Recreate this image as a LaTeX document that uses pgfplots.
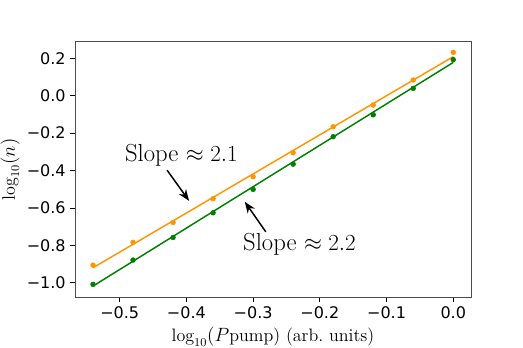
\documentclass[border=0pt]{standalone}
\usepackage{fontspec}
\usepackage{pgfplots}
\pgfplotsset{compat=1.18}
\usetikzlibrary{arrows.meta}
\newfontfamily\tickfont{DejaVu Sans}
\definecolor{mplorange}{RGB}{255,150,0}
\definecolor{mplgreen}{RGB}{0,128,0}

\begin{document}
\begin{tikzpicture}
\begin{axis}[
    scale only axis,
    width=297pt, height=192.5pt,
    xmin=-0.567, xmax=0.0266,
    ymin=-1.080, ymax=0.2926,
    axis line style={black!70, line width=0.7pt},
    tick style={black, line width=0.6pt},
    tick align=outside,
    major tick length=3.5pt,
    xtick={-0.5,-0.4,-0.3,-0.2,-0.1,0},
    xticklabels={−0.5,−0.4,−0.3,−0.2,−0.1,0.0},
    ytick={-1.0,-0.8,-0.6,-0.4,-0.2,0,0.2},
    yticklabels={−1.0,−0.8,−0.6,−0.4,−0.2,0.0,0.2},
    ticklabel style={font=\tickfont\fontsize{12}{14}\selectfont},
    xtick pos=bottom, ytick pos=left,
    xlabel={$\log_{10}(P$pump) (arb.\ units)},
    ylabel={$\log_{10}(n)$},
    every axis x label/.style={at={(rel axis cs:0.5,0)}, yshift=-29.5pt, anchor=center, font=\fontsize{13.5}{16}\selectfont},
    every axis y label/.style={at={(rel axis cs:0,0.5)}, xshift=-48.75pt, anchor=center, rotate=90, font=\fontsize{13.5}{16}\selectfont},
    clip=false,
]
% fitted lines
\addplot[mplorange, line width=1.1pt] coordinates {(-0.54,-0.920) (0,0.209)};
\addplot[mplgreen, line width=1.1pt] coordinates {(-0.54,-1.018) (0,0.178)};
% data
\addplot[only marks, mark=*, mark size=1.8pt, mplorange, mark options={draw=none, fill=mplorange}] coordinates {
    (-0.54,-0.906) (-0.48,-0.784) (-0.42,-0.678) (-0.36,-0.551) (-0.30,-0.433)
    (-0.24,-0.305) (-0.18,-0.166) (-0.12,-0.050) (-0.06,0.084) (0,0.232)
};
\addplot[only marks, mark=*, mark size=1.8pt, mplgreen, mark options={draw=none, fill=mplgreen}] coordinates {
    (-0.54,-1.009) (-0.48,-0.879) (-0.42,-0.758) (-0.36,-0.626) (-0.30,-0.501)
    (-0.24,-0.366) (-0.18,-0.219) (-0.12,-0.102) (-0.06,0.039) (0,0.193)
};
% annotations
\node[font=\fontsize{18.5}{22}\selectfont, anchor=center] at (axis cs:-0.4075,-0.320) {Slope $\approx 2.1$};
\draw[-{Stealth[length=8.5pt,width=6.5pt]}, line width=1.1pt] (axis cs:-0.429,-0.398) -- (axis cs:-0.396,-0.562);
\node[font=\fontsize{18.5}{22}\selectfont, anchor=center] at (axis cs:-0.2305,-0.795) {Slope $\approx 2.2$};
\draw[-{Stealth[length=8.5pt,width=6.5pt]}, line width=1.1pt] (axis cs:-0.281,-0.728) -- (axis cs:-0.3125,-0.567);
\coordinate (ll) at (rel axis cs:0,0);
\coordinate (ur) at (rel axis cs:1,1);
\end{axis}
\pgfresetboundingbox
\path[use as bounding box] ([shift={(-56.25pt,-37pt)}]ll) rectangle ([shift={(39pt,30.75pt)}]ur);
\end{tikzpicture}
\end{document}
